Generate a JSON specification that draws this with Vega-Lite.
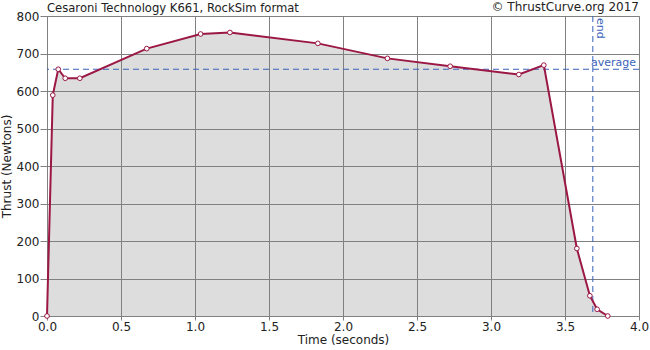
{
  "$schema": "https://vega.github.io/schema/vega-lite/v6.json",
  "width": 592,
  "height": 300,
  "autosize": {"type": "none"},
  "padding": {"left": 47, "top": 16, "right": 11, "bottom": 34},
  "background": "white",
  "config": {
    "view": {"stroke": "#808080", "strokeWidth": 1},
    "font": "DejaVu Sans",
    "axis": {
      "labelFont": "DejaVu Sans",
      "titleFont": "DejaVu Sans",
      "labelFontSize": 12,
      "titleFontSize": 12,
      "titleFontWeight": "normal",
      "labelColor": "#222222",
      "titleColor": "#222222",
      "gridColor": "#808080",
      "gridOpacity": 1,
      "gridWidth": 1,
      "domainColor": "#808080",
      "tickColor": "#808080",
      "tickSize": 4,
      "labelOverlap": false,
      "labelFlush": false
    },
    "axisY": {"tickSize": 7}
  },
  "datasets": {
    "curve": [
      {"t": 0.0, "F": 0},
      {"t": 0.039, "F": 589},
      {"t": 0.076, "F": 658},
      {"t": 0.123, "F": 634},
      {"t": 0.222, "F": 634},
      {"t": 0.674, "F": 713},
      {"t": 1.038, "F": 752},
      {"t": 1.236, "F": 756},
      {"t": 1.83, "F": 727},
      {"t": 2.3, "F": 687},
      {"t": 2.724, "F": 666},
      {"t": 3.188, "F": 644},
      {"t": 3.357, "F": 669},
      {"t": 3.58, "F": 180},
      {"t": 3.668, "F": 54},
      {"t": 3.717, "F": 18},
      {"t": 3.789, "F": 0}
    ],
    "marks": [{"avg": 658, "end": 3.688, "xmin": 0, "xmax": 4.0, "ymax": 800}]
  },
  "layer": [
    {
      "data": {"name": "curve"},
      "mark": {"type": "area", "color": "#808080", "opacity": 0.268},
      "encoding": {
        "x": {"field": "t", "type": "quantitative", "scale": {"domain": [0, 4]},
          "axis": {"title": "Time (seconds)", "format": ".1f", "values": [0, 0.5, 1, 1.5, 2, 2.5, 3, 3.5, 4], "titlePadding": 2, "labelPadding": 1}},
        "y": {"field": "F", "type": "quantitative", "scale": {"domain": [0, 800]},
          "axis": {"title": "Thrust (Newtons)", "values": [0, 100, 200, 300, 400, 500, 600, 700, 800], "titlePadding": 3, "labelPadding": 1}}
      }
    },
    {
      "data": {"name": "marks"},
      "mark": {"type": "rule", "color": "#3a62b8", "strokeDash": [6, 4], "strokeWidth": 1},
      "encoding": {"y": {"field": "avg", "type": "quantitative", "scale": {"domain": [0, 800]},
          "axis": {"title": "Thrust (Newtons)", "values": [0, 100, 200, 300, 400, 500, 600, 700, 800], "titlePadding": 3, "labelPadding": 1}}}
    },
    {
      "data": {"name": "marks"},
      "mark": {"type": "rule", "color": "#3a62b8", "strokeDash": [6, 4], "strokeWidth": 1},
      "encoding": {"x": {"field": "end", "type": "quantitative", "scale": {"domain": [0, 4]},
          "axis": {"title": "Time (seconds)", "format": ".1f", "values": [0, 0.5, 1, 1.5, 2, 2.5, 3, 3.5, 4], "titlePadding": 2, "labelPadding": 1}}}
    },
    {
      "data": {"name": "curve"},
      "mark": {"type": "line", "color": "#9b1745", "strokeWidth": 2},
      "encoding": {
        "x": {"field": "t", "type": "quantitative", "scale": {"domain": [0, 4]},
          "axis": {"title": "Time (seconds)", "format": ".1f", "values": [0, 0.5, 1, 1.5, 2, 2.5, 3, 3.5, 4], "titlePadding": 2, "labelPadding": 1}},
        "y": {"field": "F", "type": "quantitative", "scale": {"domain": [0, 800]},
          "axis": {"title": "Thrust (Newtons)", "values": [0, 100, 200, 300, 400, 500, 600, 700, 800], "titlePadding": 3, "labelPadding": 1}}
      }
    },
    {
      "data": {"name": "curve"},
      "mark": {"type": "point", "shape": "circle", "filled": true, "fill": "white", "stroke": "#9b1745", "strokeWidth": 1, "size": 22, "opacity": 1},
      "encoding": {
        "x": {"field": "t", "type": "quantitative", "scale": {"domain": [0, 4]},
          "axis": {"title": "Time (seconds)", "format": ".1f", "values": [0, 0.5, 1, 1.5, 2, 2.5, 3, 3.5, 4], "titlePadding": 2, "labelPadding": 1}},
        "y": {"field": "F", "type": "quantitative", "scale": {"domain": [0, 800]},
          "axis": {"title": "Thrust (Newtons)", "values": [0, 100, 200, 300, 400, 500, 600, 700, 800], "titlePadding": 3, "labelPadding": 1}}
      }
    },
    {
      "data": {"name": "marks"},
      "mark": {"type": "text", "text": "average", "align": "right", "baseline": "bottom", "dx": -3, "dy": -1, "color": "#3a62b8", "fontSize": 11, "font": "DejaVu Sans"},
      "encoding": {
        "x": {"field": "xmax", "type": "quantitative", "scale": {"domain": [0, 4]},
          "axis": {"title": "Time (seconds)", "format": ".1f", "values": [0, 0.5, 1, 1.5, 2, 2.5, 3, 3.5, 4], "titlePadding": 2, "labelPadding": 1}},
        "y": {"field": "avg", "type": "quantitative", "scale": {"domain": [0, 800]},
          "axis": {"title": "Thrust (Newtons)", "values": [0, 100, 200, 300, 400, 500, 600, 700, 800], "titlePadding": 3, "labelPadding": 1}}
      }
    },
    {
      "data": {"name": "marks"},
      "mark": {"type": "text", "text": "end", "angle": 90, "align": "left", "baseline": "bottom", "dx": 2, "dy": -2, "color": "#3a62b8", "fontSize": 11, "font": "DejaVu Sans"},
      "encoding": {
        "x": {"field": "end", "type": "quantitative", "scale": {"domain": [0, 4]},
          "axis": {"title": "Time (seconds)", "format": ".1f", "values": [0, 0.5, 1, 1.5, 2, 2.5, 3, 3.5, 4], "titlePadding": 2, "labelPadding": 1}},
        "y": {"field": "ymax", "type": "quantitative", "scale": {"domain": [0, 800]},
          "axis": {"title": "Thrust (Newtons)", "values": [0, 100, 200, 300, 400, 500, 600, 700, 800], "titlePadding": 3, "labelPadding": 1}}
      }
    },
    {
      "data": {"name": "marks"},
      "mark": {"type": "text", "text": "Cesaroni Technology K661, RockSim format", "align": "left", "baseline": "bottom", "dy": -2, "color": "#222222", "fontSize": 11.6, "font": "DejaVu Sans"},
      "encoding": {
        "x": {"field": "xmin", "type": "quantitative", "scale": {"domain": [0, 4]},
          "axis": {"title": "Time (seconds)", "format": ".1f", "values": [0, 0.5, 1, 1.5, 2, 2.5, 3, 3.5, 4], "titlePadding": 2, "labelPadding": 1}},
        "y": {"field": "ymax", "type": "quantitative", "scale": {"domain": [0, 800]},
          "axis": {"title": "Thrust (Newtons)", "values": [0, 100, 200, 300, 400, 500, 600, 700, 800], "titlePadding": 3, "labelPadding": 1}}
      }
    },
    {
      "data": {"name": "marks"},
      "mark": {"type": "text", "text": "© ThrustCurve.org 2017", "align": "right", "baseline": "bottom", "dy": -2, "color": "#222222", "fontSize": 12, "font": "DejaVu Sans"},
      "encoding": {
        "x": {"field": "xmax", "type": "quantitative", "scale": {"domain": [0, 4]},
          "axis": {"title": "Time (seconds)", "format": ".1f", "values": [0, 0.5, 1, 1.5, 2, 2.5, 3, 3.5, 4], "titlePadding": 2, "labelPadding": 1}},
        "y": {"field": "ymax", "type": "quantitative", "scale": {"domain": [0, 800]},
          "axis": {"title": "Thrust (Newtons)", "values": [0, 100, 200, 300, 400, 500, 600, 700, 800], "titlePadding": 3, "labelPadding": 1}}
      }
    }
  ]
}
